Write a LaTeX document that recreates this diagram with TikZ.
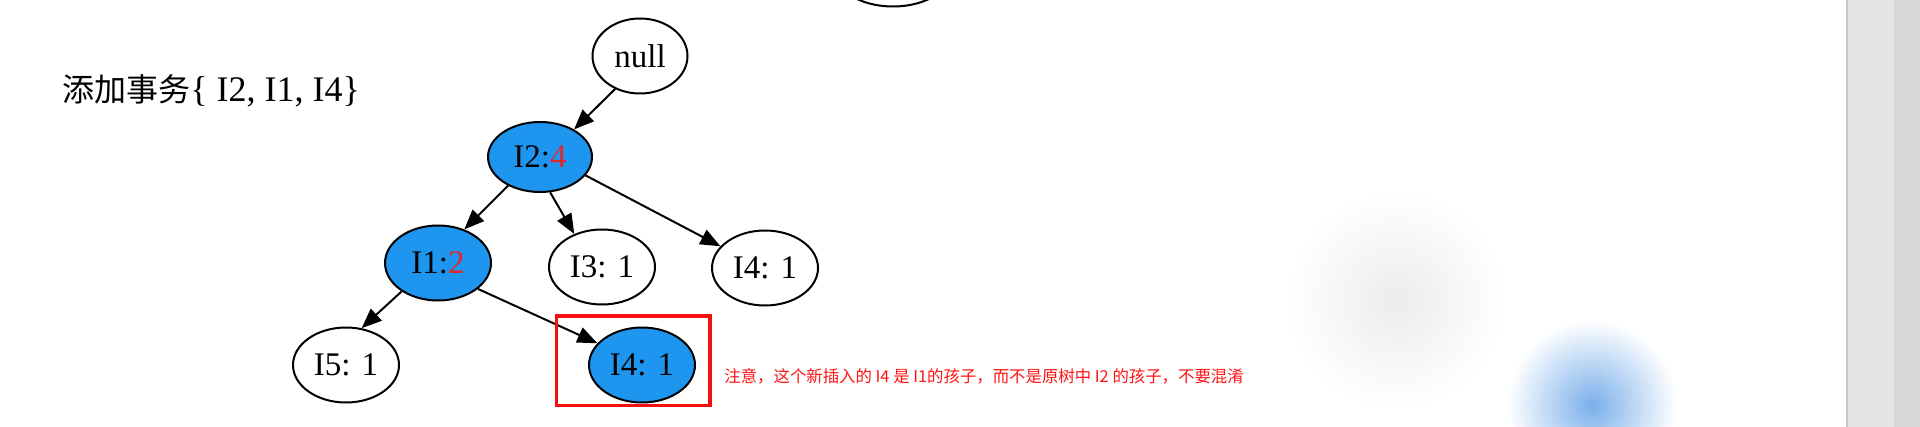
\documentclass[tikz,border=0pt]{standalone}
\usepackage{fontspec}
\setmainfont{Liberation Serif}
\newfontfamily\cjk{Noto Sans CJK SC}
\usepackage{xcolor}
\usetikzlibrary{shapes.geometric,arrows.meta}
\definecolor{itemblue}{HTML}{1E96F0}
\definecolor{countred}{HTML}{E3262B}
\definecolor{notered}{HTML}{FF1414}
\definecolor{boxred}{HTML}{F51010}
\definecolor{barlight}{HTML}{E4E4E4}
\definecolor{bardark}{HTML}{D7D7D7}
\definecolor{blobblue}{HTML}{7AAFEA}
\definecolor{blobgray}{HTML}{ECECEC}

\begin{document}
\begin{tikzpicture}[x=0.5pt, y=-0.5pt,
    every node/.style={font=\fontsize{16.5}{19}\selectfont},
    item/.style={draw, ellipse, line width=1pt, inner sep=0pt, minimum width=53pt, minimum height=37.5pt},
    hit/.style={item, fill=itemblue},
    edge/.style={-{Triangle[length=10pt, width=8pt]}, line width=1pt}]
    % Frame
    \clip (0,0) rectangle (1920,427);
    \fill[white] (0,0) rectangle (1920,427);
    
    % Blurred spots on the screen
    \shade[inner color=blobgray, outer color=white] (1396,300) circle[radius=110];
    \shade[inner color=blobblue, outer color=white] (1592,405) circle[radius=85];
    
    % Side bar
    \fill[barlight] (1846,0) rectangle (1894,427);
    \fill[bardark] (1894,0) rectangle (1920,427);
    \draw[gray!45, line width=0.75pt] (1847,0) -- (1847,427);
    
    % Title
    \node[anchor=west, inner sep=0pt, font=\fontsize{18}{21}\selectfont] (title) at (62,91) {{\cjk\fontsize{16}{19}\selectfont 添加事务}\{ I2, I1, I4\}};
    
    % Tree
    \node[item, minimum width=60pt] (above) at (893,-31) {};
    \node[item, minimum width=47.5pt] (null) at (640,56) {null};
    \node[hit, minimum width=52pt, minimum height=35pt] (i2) at (540,157) {I2:\textcolor{countred}{4}};
    \node[hit] (i1) at (438,263) {I1:\textcolor{countred}{2}};
    \node[item] (i3) at (602,267) {I3: 1};
    \node[item] (i4) at (765,268) {I4: 1};
    \node[item] (i5) at (346,365) {I5: 1};
    \node[hit] (i4new) at (642,365) {I4: 1};
    
    % Connections
    \draw[edge] (null.-127) -- (i2.39);
    \draw[edge] (i2.-138) -- (i1.52);
    \draw[edge] (i2.-74) -- (i3.130);
    \draw[edge] (i2.-22) -- (i4.154);
    \draw[edge] (i1.-142) -- (i5.67);
    \draw[edge] (i1.-33) -- (i4new.154);
    
    % Highlight of the new child
    \draw[boxred, line width=1.7pt] (556.7,316) rectangle (710,405.7);
    \begin{scope}
        \clip (700,340) rectangle (1247,410);
        \node[anchor=west, inner sep=0pt, text=notered, font=\cjk\fontsize{8.2}{10}\selectfont] (note) at (724,376) {注意，这个新插入的 I4 是 I1的孩子，而不是原树中 I2 的孩子，不要混淆};
    \end{scope}
\end{tikzpicture}
\end{document}
